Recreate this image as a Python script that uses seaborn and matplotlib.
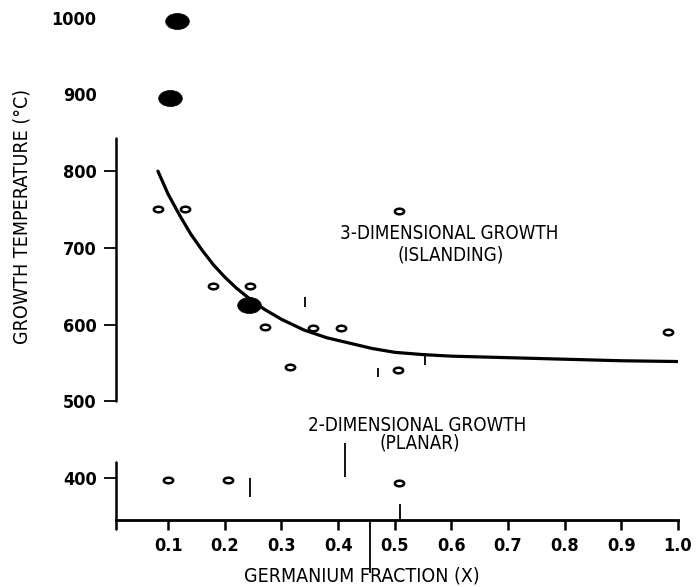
import matplotlib
matplotlib.use("Agg")
import matplotlib.pyplot as plt
import seaborn as sns
from matplotlib.path import Path
from matplotlib.markers import MarkerStyle
from matplotlib.transforms import Affine2D

# Data
open_x = [0.082, 0.130, 0.179, 0.245, 0.271, 0.315, 0.356, 0.405, 0.507, 0.506, 0.982,
          0.100, 0.206, 0.508]
open_t = [751, 751, 650, 650, 597, 545, 596, 596, 748, 541, 590,
          397, 397, 394]

filled_x = [0.116, 0.104, 0.242]
filled_t = [996, 895, 626]

curve_x = [0.082, 0.10, 0.12, 0.14, 0.16, 0.18, 0.20, 0.22, 0.24, 0.27, 0.30, 0.34,
           0.38, 0.42, 0.46, 0.50, 0.55, 0.60, 0.70, 0.80, 0.90, 1.00]
curve_t = [800, 770, 743, 718, 697, 678, 662, 648, 636, 620, 607, 593,
           583, 576, 569, 564, 561, 559, 557, 555, 553, 552]

# short vertical marks visible in the original (x, low, high)
mark_x = [0.341, 0.470, 0.553, 0.412, 0.245, 0.509, 0.456]
mark_lo = [623, 532, 547, 402, 375, 345, 277]
mark_hi = [636, 543, 563, 446, 400, 367, 343]

x_ticks = [0.1, 0.2, 0.3, 0.4, 0.5, 0.6, 0.7, 0.8, 0.9, 1.0]
x_tick_labels = ["0.1", "0.2", "0.3", "0.4", "0.5", "0.6", "0.7", "0.8", "0.9", "1.0"]
y_ticks = [400, 500, 600, 700, 800, 900, 1000]
y_ticks_unmarked = [900, 1000]

label_3d = ["3-DIMENSIONAL GROWTH", "(ISLANDING)"]
label_2d = ["2-DIMENSIONAL GROWTH", "(PLANAR)"]

sns.set_style("white")
plt.rcParams["font.family"] = ["DejaVu Sans"]
plt.rcParams["font.stretch"] = "condensed"
plt.rcParams["text.color"] = "black"

fig = plt.figure(figsize=(6.98, 5.87), dpi=100)
ax = fig.add_axes([0.1662, 0.1141, 0.8051, 0.8859])
ax.set_xlim(0.008, 1.0)
ax.set_ylim(345.5, 1023)

open_marker = MarkerStyle(Affine2D().scale(1.0, 0.6).transform_path(Path.unit_circle()))
fill_marker = MarkerStyle(Affine2D().scale(1.0, 0.68).transform_path(Path.unit_circle()))

sns.lineplot(x=curve_x, y=curve_t, sort=False, estimator=None, color="black",
             linewidth=2.3, ax=ax)
sns.scatterplot(x=open_x, y=open_t, marker=open_marker, s=45, color="white",
                edgecolor="black", linewidth=1.8, ax=ax, zorder=3)
sns.scatterplot(x=filled_x, y=filled_t, marker=fill_marker, s=290, color="black",
                edgecolor="black", linewidth=0.5, ax=ax, zorder=4)
ax.vlines(mark_x, mark_lo, mark_hi, color="black", linewidth=1.3, clip_on=False)

# broken left axis and bottom axis
for s in ax.spines.values():
    s.set_visible(False)
ax.spines["bottom"].set_visible(True)
ax.spines["bottom"].set_linewidth(2)
ax.spines["bottom"].set_color("black")
ytr = ax.get_yaxis_transform()
ax.plot([0, 0], [500, 843], transform=ytr, color="black", lw=1.8, clip_on=False)
ax.plot([0, 0], [334, 421], transform=ytr, color="black", lw=1.8, clip_on=False)

tick_font = dict(fontsize=13, fontweight="bold", fontstretch="condensed", color="black")
ax.set_xticks(x_ticks)
ax.set_xticklabels(x_tick_labels, **tick_font)
ax.set_yticks(y_ticks)
ax.set_yticklabels([str(t) for t in y_ticks], **tick_font)
ax.tick_params(axis="x", direction="out", length=7, width=1.8, pad=5, bottom=True,
               color="black")
ax.tick_params(axis="y", direction="out", length=9, width=1.3, pad=5, left=True,
               color="black")
for t, tick in zip(y_ticks, ax.yaxis.get_major_ticks()):
    if t in y_ticks_unmarked:
        tick.tick1line.set_visible(False)

note_font = dict(ha="center", va="center", fontsize=13.5, fontstretch="condensed")
ax.text(0.596, 719, label_3d[0], **note_font)
ax.text(0.598, 691, label_3d[1], **note_font)
ax.text(0.539, 469, label_2d[0], **note_font)
ax.text(0.545, 446, label_2d[1], **note_font)

fig.text(22 / 698, 1 - 217 / 587, "GROWTH TEMPERATURE (\u00b0C)", rotation=90,
         ha="center", va="center", fontsize=14, fontstretch="condensed")
fig.text(362 / 698, 1 - 576 / 587, "GERMANIUM FRACTION (X)", ha="center",
         va="center", fontsize=14, fontstretch="condensed")

fig.savefig("out.png", dpi=100)
